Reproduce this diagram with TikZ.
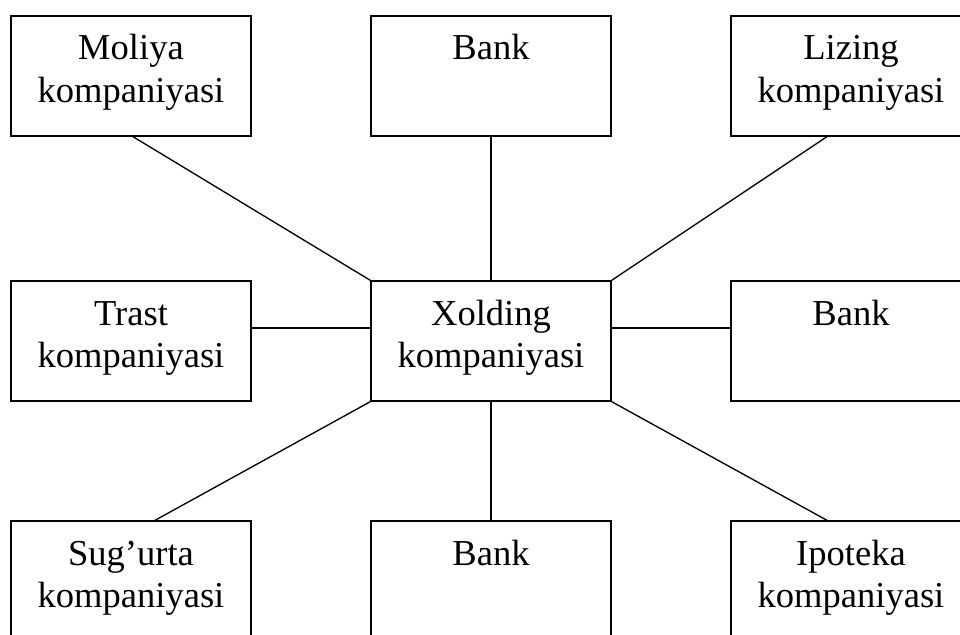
\documentclass[tikz,border=0pt]{standalone}
\usepackage{fontspec}
\setmainfont{Liberation Serif}
\usetikzlibrary{calc}
\tikzset{
  orgbox/.style={draw=black, line width=1pt, minimum width=180pt, minimum height=90pt, inner sep=0pt},
  orgtxt/.style={anchor=base, inner sep=0pt, font=\fontsize{27.4}{32}\selectfont},
  link/.style={draw=black, line width=1pt}
}
\newcommand{\twoline}[2]{\begin{tabular}[t]{@{}c@{}}#1\\#2\end{tabular}}
\begin{document}
\begin{tikzpicture}[x=0.75pt, y=-0.75pt]
\useasboundingbox (0,0) rectangle (960,635);
\clip (0,0) rectangle (960,635);
% boxes
\node[orgbox] (tl) at (131,76) {};
\node[orgbox] (tm) at (491,76) {};
\node[orgbox] (tr) at (851,76) {};
\node[orgbox] (ml) at (131,341) {};
\node[orgbox] (c)  at (491,341) {};
\node[orgbox] (mr) at (851,341) {};
\node[orgbox] (bl) at (131,581) {};
\node[orgbox] (bm) at (491,581) {};
\node[orgbox] (br) at (851,581) {};
% texts
\node[orgtxt] (ttl) at (131,60) {\twoline{Moliya}{kompaniyasi}};
\node[orgtxt] (ttm) at (491,60) {Bank};
\node[orgtxt] (ttr) at (851,60) {\twoline{Lizing}{kompaniyasi}};
\node[orgtxt] (tml) at (131,325) {\twoline{Trast}{kompaniyasi}};
\node[orgtxt] (tc)  at (491,325) {\twoline{Xolding}{kompaniyasi}};
\node[orgtxt] (tmr) at (851,325) {Bank};
\node[orgtxt] (tbl) at (131,565) {\twoline{Sug’urta}{kompaniyasi}};
\node[orgtxt] (tbm) at (491,565) {Bank};
\node[orgtxt] (tbr) at (851,565) {\twoline{Ipoteka}{kompaniyasi}};
% connectors
\draw[link] ([xshift=1.5pt]tl.south) -- (c.north west);
\draw[link] (tm.south) -- (c.north);
\draw[link] ([xshift=-18pt]tr.south) -- (c.north east);
\draw[link] ([yshift=9.75pt]ml.east) -- ([yshift=9.75pt]c.west);
\draw[link] ([yshift=9.75pt]c.east) -- ([yshift=9.75pt]mr.west);
\draw[link] (c.south west) -- ([xshift=18pt]bl.north);
\draw[link] (c.south) -- (bm.north);
\draw[link] (c.south east) -- ([xshift=-18pt]br.north);
\end{tikzpicture}
\end{document}
